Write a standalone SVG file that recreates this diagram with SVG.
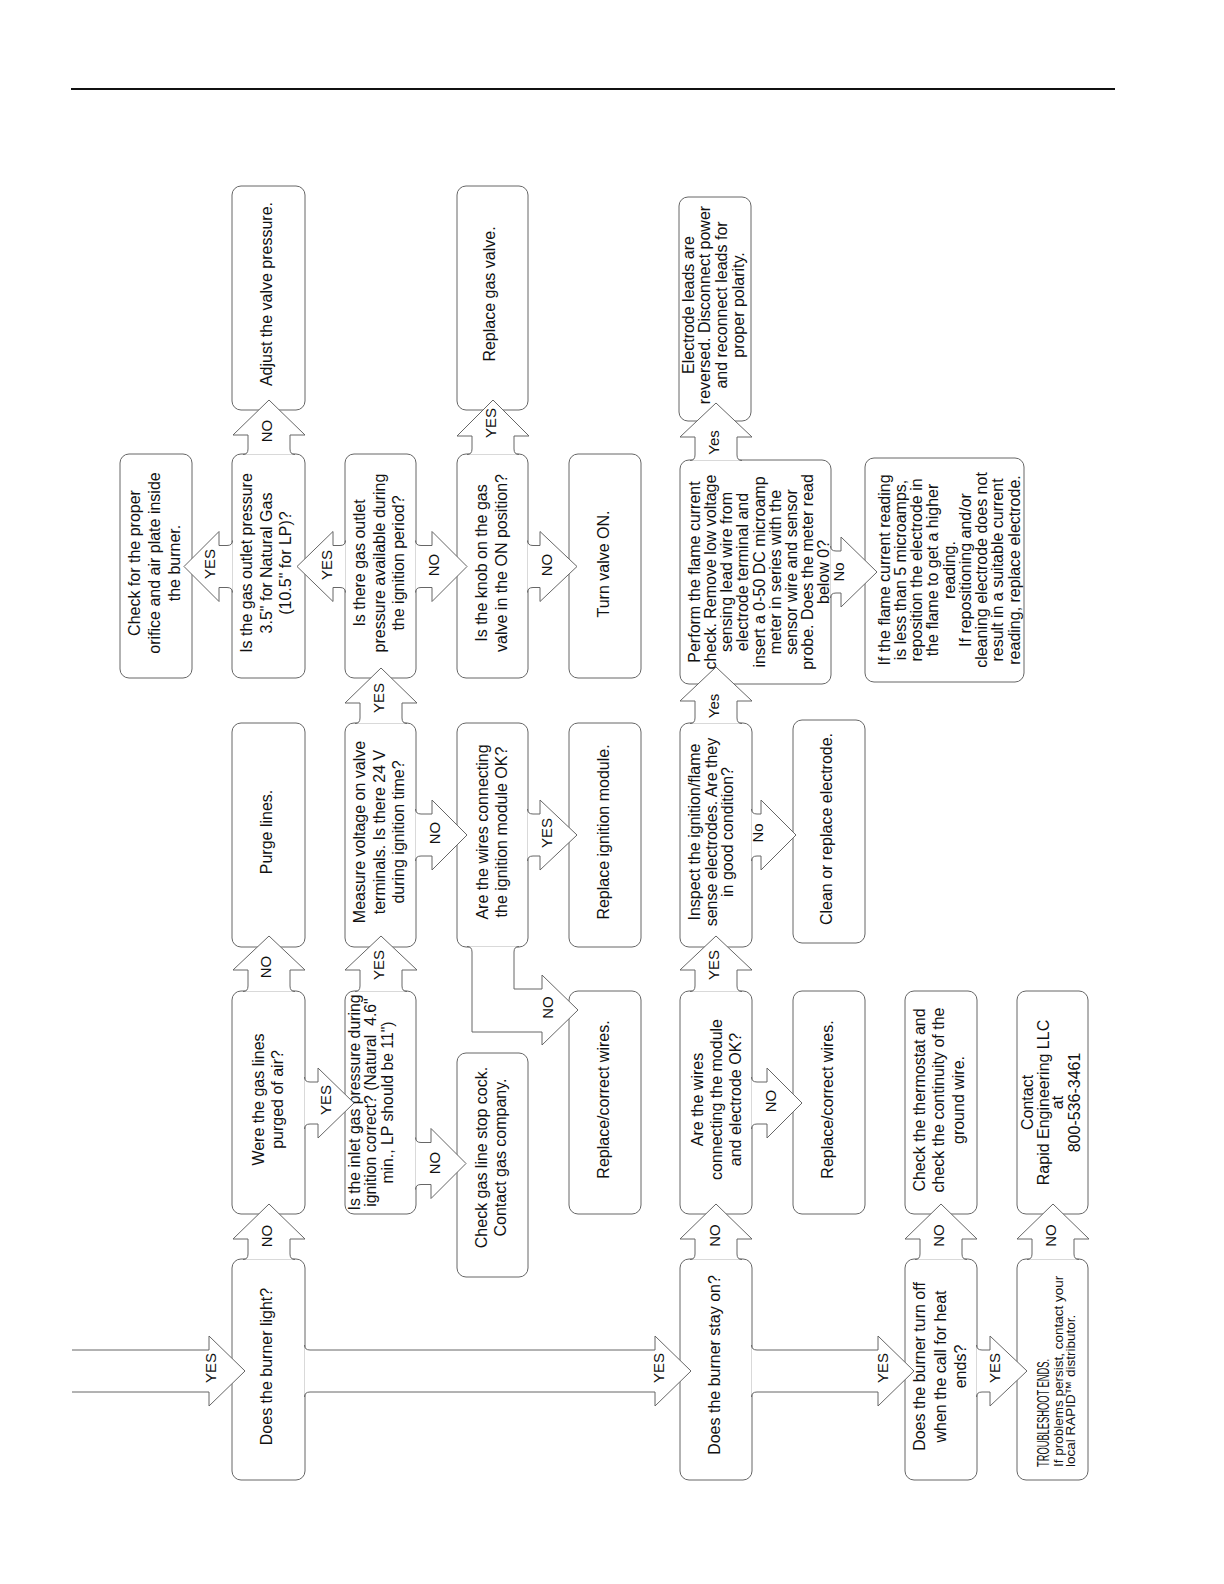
<svg xmlns="http://www.w3.org/2000/svg" width="1224" height="1584" viewBox="0 0 1224 1584">
<style>
.box{fill:#fff;stroke:#666;stroke-width:1}
.arr{fill:#fff;stroke:#666;stroke-width:1;stroke-linejoin:miter}
.t{font-family:"Liberation Sans",Arial,sans-serif;font-size:16px;fill:#111;text-anchor:middle}
.lbl{font-family:"Liberation Sans",Arial,sans-serif;font-size:15px;fill:#111;text-anchor:middle}
.small{font-size:13.5px}
</style>
<rect width="1224" height="1584" fill="#fff"/>
<line x1="71" y1="89" x2="1115" y2="89" stroke="#111" stroke-width="2"/>

<g id="nodes">
<g id="n-a2"><rect class="box" x="120" y="454" width="72" height="224" rx="9"/><text class="t" transform="translate(156,563) rotate(-90)"><tspan x="0" y="-16">Check for the proper</tspan><tspan x="0" y="4">orifice and air plate inside</tspan><tspan x="0" y="24">the burner.</tspan></text></g>
<g id="n-b1"><rect class="box" x="232" y="186" width="73" height="224" rx="9"/><text class="t" transform="translate(268.5,294) rotate(-90)"><tspan x="0" y="3">Adjust the valve pressure.</tspan></text></g>
<g id="n-b2"><rect class="box" x="232" y="454" width="73" height="224" rx="9"/><text class="t" transform="translate(268.5,563) rotate(-90)"><tspan x="0" y="-17">Is the gas outlet pressure</tspan><tspan x="0" y="3">3.5" for Natural Gas</tspan><tspan x="0" y="22.5">(10.5" for LP)?</tspan></text></g>
<g id="n-b3"><rect class="box" x="232" y="723" width="73" height="224" rx="9"/><text class="t" transform="translate(268.5,832) rotate(-90)"><tspan x="0" y="3">Purge lines.</tspan></text></g>
<g id="n-b4"><rect class="box" x="232" y="991" width="73" height="223" rx="9"/><text class="t" transform="translate(268.5,1099.5) rotate(-90)"><tspan x="0" y="-5">Were the gas lines</tspan><tspan x="0" y="14.5">purged of air?</tspan></text></g>
<g id="n-b5"><rect class="box" x="232" y="1259" width="73" height="221" rx="9"/><text class="t" transform="translate(268.5,1366.5) rotate(-90)"><tspan x="0" y="3">Does the burner light?</tspan></text></g>
<g id="n-c2"><rect class="box" x="345" y="454" width="71" height="224" rx="9"/><text class="t" transform="translate(380.5,563) rotate(-90)"><tspan x="0" y="-16">Is there gas outlet</tspan><tspan x="0" y="4">pressure available during</tspan><tspan x="0" y="23">the ignition period?</tspan></text></g>
<g id="n-c3"><rect class="box" x="345" y="723" width="71" height="224" rx="9"/><text class="t" transform="translate(380.5,832) rotate(-90)"><tspan x="0" y="-16">Measure voltage on valve</tspan><tspan x="0" y="4">terminals. Is there 24 V</tspan><tspan x="0" y="23">during ignition time?</tspan></text></g>
<g id="n-c4"><rect class="box" x="345" y="991" width="71" height="223" rx="9"/><text class="t" xml:space="preserve" style="font-size:15.8px" transform="translate(380.5,1102.5) rotate(-90)"><tspan x="0" y="-21">Is the inlet gas pressure during</tspan><tspan x="0" y="-4.5">ignition correct? (Natural  4.6"</tspan><tspan x="0" y="12.5">min., LP should be 11")</tspan></text></g>
<g id="n-d1"><rect class="box" x="457" y="186" width="71" height="224" rx="9"/><text class="t" transform="translate(492.5,294) rotate(-90)"><tspan x="0" y="2">Replace gas valve.</tspan></text></g>
<g id="n-d2"><rect class="box" x="457" y="454" width="71" height="224" rx="9"/><text class="t" transform="translate(492.5,563) rotate(-90)"><tspan x="0" y="-6">Is the knob on the gas</tspan><tspan x="0" y="14.5">valve in the ON position?</tspan></text></g>
<g id="n-d3"><rect class="box" x="457" y="723" width="71" height="224" rx="9"/><text class="t" transform="translate(492.5,832) rotate(-90)"><tspan x="0" y="-5">Are the wires connecting</tspan><tspan x="0" y="14.5">the ignition module OK?</tspan></text></g>
<g id="n-d4"><rect class="box" x="457" y="1053" width="71" height="224" rx="9"/><text class="t" transform="translate(492.5,1157.5) rotate(-90)"><tspan x="0" y="-6">Check gas line stop cock.</tspan><tspan x="0" y="13">Contact gas company.</tspan></text></g>
<g id="n-e2"><rect class="box" x="569" y="454" width="72" height="224" rx="9"/><text class="t" transform="translate(605,564) rotate(-90)"><tspan x="0" y="3.5">Turn valve ON.</tspan></text></g>
<g id="n-e3"><rect class="box" x="569" y="723" width="72" height="224" rx="9"/><text class="t" transform="translate(605,832) rotate(-90)"><tspan x="0" y="3.5">Replace ignition module.</tspan></text></g>
<g id="n-e4"><rect class="box" x="569" y="991" width="72" height="223" rx="9"/><text class="t" transform="translate(605,1099.5) rotate(-90)"><tspan x="0" y="3.5">Replace/correct wires.</tspan></text></g>
<g id="n-f1"><rect class="box" x="679" y="197" width="72" height="224" rx="9"/><text class="t" transform="translate(716,305) rotate(-90)"><tspan x="0" y="-22.2">Electrode leads are</tspan><tspan x="0" y="-5.6">reversed. Disconnect power</tspan><tspan x="0" y="11">and reconnect leads for</tspan><tspan x="0" y="27.6">proper polarity.</tspan></text></g>
<g id="n-f2"><rect class="box" x="680" y="460" width="151" height="224" rx="9"/><text class="t" transform="translate(755.5,572) rotate(-90)"><tspan x="0" y="-56">Perform the flame current</tspan><tspan x="0" y="-39.75">check. Remove low voltage</tspan><tspan x="0" y="-23.5">sensing lead wire from</tspan><tspan x="0" y="-7.25">electrode terminal and</tspan><tspan x="0" y="9">insert a 0-50 DC microamp</tspan><tspan x="0" y="25.25">meter in series with the</tspan><tspan x="0" y="41.5">sensor wire and sensor</tspan><tspan x="0" y="57.75">probe. Does the meter read</tspan><tspan x="0" y="73.5">below 0?</tspan></text></g>
<g id="n-f3"><rect class="box" x="680" y="723" width="72" height="224" rx="9"/><text class="t" transform="translate(716,832) rotate(-90)"><tspan x="0" y="-16.5">Inspect the ignition/flame</tspan><tspan x="0" y="0.5">sense electrodes. Are they</tspan><tspan x="0" y="17">in good condition?</tspan></text></g>
<g id="n-f4"><rect class="box" x="680" y="991" width="72" height="223" rx="9"/><text class="t" transform="translate(716,1099.5) rotate(-90)"><tspan x="0" y="-13">Are the wires</tspan><tspan x="0" y="6">connecting the module</tspan><tspan x="0" y="25">and electrode OK?</tspan></text></g>
<g id="n-f5"><rect class="box" x="680" y="1259" width="72" height="221" rx="9"/><text class="t" transform="translate(716,1365) rotate(-90)"><tspan x="0" y="3.7">Does the burner stay on?</tspan></text></g>
<g id="n-g2"><rect class="box" x="865" y="458" width="159" height="224" rx="9"/><text class="t" transform="translate(944.5,570) rotate(-90)"><tspan x="0" y="-55">If the flame current reading</tspan><tspan x="0" y="-38.75">is less than 5 microamps,</tspan><tspan x="0" y="-22.5">reposition the electrode in</tspan><tspan x="0" y="-6.25">the flame to get a higher</tspan><tspan x="0" y="10">reading.</tspan><tspan x="0" y="26.25">If repositioning and/or</tspan><tspan x="0" y="42.5">cleaning electrode does not</tspan><tspan x="0" y="58.75">result in a suitable current</tspan><tspan x="0" y="75">reading, replace electrode.</tspan></text></g>
<g id="n-g3"><rect class="box" x="793" y="720" width="72" height="223" rx="9"/><text class="t" transform="translate(829,829) rotate(-90)"><tspan x="0" y="2.5">Clean or replace electrode.</tspan></text></g>
<g id="n-g4"><rect class="box" x="793" y="991" width="72" height="223" rx="9"/><text class="t" transform="translate(829,1099.5) rotate(-90)"><tspan x="0" y="3.5">Replace/correct wires.</tspan></text></g>
<g id="n-h4"><rect class="box" x="905" y="991" width="72" height="223" rx="9"/><text class="t" transform="translate(941,1100) rotate(-90)"><tspan x="0" y="-16.5">Check the thermostat and</tspan><tspan x="0" y="3">check the continuity of the</tspan><tspan x="0" y="23">ground wire.</tspan></text></g>
<g id="n-h5"><rect class="box" x="905" y="1259" width="72" height="221" rx="9"/><text class="t" transform="translate(941,1366.5) rotate(-90)"><tspan x="0" y="-16.5">Does the burner turn off</tspan><tspan x="0" y="4.5">when the call for heat</tspan><tspan x="0" y="25">ends?</tspan></text></g>
<g id="n-i4"><rect class="box" x="1017" y="991" width="71" height="223" rx="9"/><text class="t" transform="translate(1052.5,1102.5) rotate(-90)"><tspan x="0" y="-19.5">Contact</tspan><tspan x="0" y="-3.5">Rapid Engineering LLC</tspan><tspan x="0" y="10">at</tspan><tspan x="0" y="27.5">800-536-3461</tspan></text></g>
<g id="n-i5"><rect class="box" x="1017" y="1259" width="71" height="221" rx="9"/><text class="t" style="text-anchor:start" transform="translate(1052.5,1369.5) rotate(-90)"><tspan x="-97.5" y="-4" style="font-size:16.5px" textLength="108" lengthAdjust="spacingAndGlyphs">TROUBLESHOOT ENDS.</tspan><tspan class="small" x="-97.5" y="10.5">If problems persist, contact your</tspan><tspan class="small" x="-97.5" y="22.5">local RAPID™ distributor.</tspan></text></g>
</g>

<g id="connectors">
<path class="arr" d="M 243,454.5 Q 248,454.5 248,449 L 248,435 L 233,435 L 269,400 L 305,435 L 290,435 L 290,449 Q 290,454.5 295,454.5"/>
<path class="arr" d="M 243,991.5 Q 248,991.5 248,986 L 248,970 L 233,970 L 269,936 L 305,970 L 290,970 L 290,986 Q 290,991.5 295,991.5"/>
<path class="arr" d="M 243,1259.5 Q 248,1259.5 248,1254 L 248,1239 L 233,1239 L 269,1204 L 305,1239 L 290,1239 L 290,1254 Q 290,1259.5 295,1259.5"/>
<path class="arr" d="M 355,723.5 Q 360,723.5 360,718 L 360,703 L 345,703 L 381,668 L 417,703 L 402,703 L 402,718 Q 402,723.5 407,723.5"/>
<path class="arr" d="M 355,991.5 Q 360,991.5 360,986 L 360,970 L 345,970 L 381,936 L 417,970 L 402,970 L 402,986 Q 402,991.5 407,991.5"/>
<path class="arr" d="M 467,454.5 Q 472,454.5 472,449 L 472,436 L 457,436 L 493,400 L 529,436 L 514,436 L 514,449 Q 514,454.5 519,454.5"/>
<path class="arr" d="M 690,460.5 Q 695,460.5 695,455 L 695,437 L 680,437 L 716,403 L 752,437 L 737,437 L 737,455 Q 737,460.5 742,460.5"/>
<path class="arr" d="M 690,723.5 Q 695,723.5 695,718 L 695,701 L 680,701 L 716,667 L 752,701 L 737,701 L 737,718 Q 737,723.5 742,723.5"/>
<path class="arr" d="M 690,991.5 Q 695,991.5 695,986 L 695,970 L 680,970 L 716,936 L 752,970 L 737,970 L 737,986 Q 737,991.5 742,991.5"/>
<path class="arr" d="M 690,1259.5 Q 695,1259.5 695,1254 L 695,1239 L 680,1239 L 716,1204 L 752,1239 L 737,1239 L 737,1254 Q 737,1259.5 742,1259.5"/>
<path class="arr" d="M 915,1259.5 Q 920,1259.5 920,1254 L 920,1239 L 905,1239 L 941,1204 L 977,1239 L 962,1239 L 962,1254 Q 962,1259.5 967,1259.5"/>
<path class="arr" d="M 1027,1259.5 Q 1032,1259.5 1032,1254 L 1032,1239 L 1017,1239 L 1053,1204 L 1089,1239 L 1074,1239 L 1074,1254 Q 1074,1259.5 1079,1259.5"/>
<path class="arr" d="M 415.5,540.5 Q 415.5,545.5 421,545.5 L 432,545.5 L 432,531.5 L 467,566.5 L 432,601.5 L 432,587.5 L 421,587.5 Q 415.5,587.5 415.5,592.5"/>
<path class="arr" d="M 527.5,540.5 Q 527.5,545.5 533,545.5 L 540,545.5 L 540,531.5 L 577,566.5 L 540,601.5 L 540,587.5 L 533,587.5 Q 527.5,587.5 527.5,592.5"/>
<path class="arr" d="M 415.5,809 Q 415.5,814 421,814 L 432,814 L 432,800 L 467,835 L 432,870 L 432,856 L 421,856 Q 415.5,856 415.5,861"/>
<path class="arr" d="M 527.5,809 Q 527.5,814 533,814 L 540,814 L 540,800 L 577,835 L 540,870 L 540,856 L 533,856 Q 527.5,856 527.5,861"/>
<path class="arr" d="M 304.5,1077 Q 304.5,1082 310,1082 L 318,1082 L 318,1068 L 354,1103 L 318,1138 L 318,1124 L 310,1124 Q 304.5,1124 304.5,1129"/>
<path class="arr" d="M 415.5,1137.5 Q 415.5,1142.5 421,1142.5 L 431,1142.5 L 431,1128.5 L 466,1163.5 L 431,1198.5 L 431,1184.5 L 421,1184.5 Q 415.5,1184.5 415.5,1189.5"/>
<path class="arr" d="M 751.5,809 Q 751.5,814 757,814 L 761,814 L 761,800 L 796,835 L 761,870 L 761,856 L 757,856 Q 751.5,856 751.5,861"/>
<path class="arr" d="M 751.5,1077 Q 751.5,1082 757,1082 L 767,1082 L 767,1068 L 802,1103 L 767,1138 L 767,1124 L 757,1124 Q 751.5,1124 751.5,1129"/>
<path class="arr" d="M 830.5,546 Q 830.5,551 836,551 L 841,551 L 841,537 L 877,572 L 841,607 L 841,593 L 836,593 Q 830.5,593 830.5,598"/>
<path class="arr" d="M 232.5,540.5 Q 232.5,545.5 227,545.5 L 219,545.5 L 219,531.5 L 184,566.5 L 219,601.5 L 219,587.5 L 227,587.5 Q 232.5,587.5 232.5,592.5"/>
<path class="arr" d="M 345.5,540.5 Q 345.5,545.5 340,545.5 L 333,545.5 L 333,531.5 L 297,566.5 L 333,601.5 L 333,587.5 L 340,587.5 Q 345.5,587.5 345.5,592.5"/>
<path class="arr" d="M 72,1350 L 209,1350 L 209,1336 L 245,1371 L 209,1406 L 209,1392 L 72,1392"/>
<path class="arr" d="M 304.5,1345 Q 304.5,1350 310,1350 L 655,1350 L 655,1336 L 691,1371 L 655,1406 L 655,1392 L 310,1392 Q 304.5,1392 304.5,1397"/>
<path class="arr" d="M 751.5,1345 Q 751.5,1350 757,1350 L 878,1350 L 878,1336 L 914,1371 L 878,1406 L 878,1392 L 757,1392 Q 751.5,1392 751.5,1397"/>
<path class="arr" d="M 976.5,1345 Q 976.5,1350 982,1350 L 990,1350 L 990,1336 L 1027,1371 L 990,1406 L 990,1392 L 982,1392 Q 976.5,1392 976.5,1397"/>
<path class="arr" d="M 467,946.5 Q 472,946.5 472,952 L 472,1032 L 542,1032 L 542,1045 L 578,1010 L 542,975 L 542,989 L 514,989 L 514,952 Q 514,946.5 519,946.5"/>

<text class="lbl" transform="translate(267,431) rotate(-90)" y="5.4">NO</text>
<text class="lbl" transform="translate(266,967) rotate(-90)" y="5.4">NO</text>
<text class="lbl" transform="translate(267,1236) rotate(-90)" y="5.4">NO</text>
<text class="lbl" transform="translate(379,698) rotate(-90)" y="5.4">YES</text>
<text class="lbl" transform="translate(379,965) rotate(-90)" y="5.4">YES</text>
<text class="lbl" transform="translate(491,423) rotate(-90)" y="5.4">YES</text>
<text class="lbl" transform="translate(714,442.5) rotate(-90)" y="5.4">Yes</text>
<text class="lbl" transform="translate(714,706) rotate(-90)" y="5.4">Yes</text>
<text class="lbl" transform="translate(714,965) rotate(-90)" y="5.4">YES</text>
<text class="lbl" transform="translate(715,1235.5) rotate(-90)" y="5.4">NO</text>
<text class="lbl" transform="translate(938.5,1235.5) rotate(-90)" y="5.4">NO</text>
<text class="lbl" transform="translate(1051,1235.5) rotate(-90)" y="5.4">NO</text>
<text class="lbl" transform="translate(210,564) rotate(-90)" y="5.4">YES</text>
<text class="lbl" transform="translate(326.5,565) rotate(-90)" y="5.4">YES</text>
<text class="lbl" transform="translate(434,565) rotate(-90)" y="5.4">NO</text>
<text class="lbl" transform="translate(547,565) rotate(-90)" y="5.4">NO</text>
<text class="lbl" transform="translate(435,833) rotate(-90)" y="5.4">NO</text>
<text class="lbl" transform="translate(546.5,833) rotate(-90)" y="5.4">YES</text>
<text class="lbl" transform="translate(326,1100) rotate(-90)" y="5.4">YES</text>
<text class="lbl" transform="translate(548,1007.5) rotate(-90)" y="5.4">NO</text>
<text class="lbl" transform="translate(435,1163) rotate(-90)" y="5.4">NO</text>
<text class="lbl" transform="translate(758,833) rotate(-90)" y="5.4">No</text>
<text class="lbl" transform="translate(771,1101) rotate(-90)" y="5.4">NO</text>
<text class="lbl" transform="translate(839,572) rotate(-90)" y="5.4">No</text>
<text class="lbl" transform="translate(211,1368) rotate(-90)" y="5.4">YES</text>
<text class="lbl" transform="translate(659,1368) rotate(-90)" y="5.4">YES</text>
<text class="lbl" transform="translate(883,1368) rotate(-90)" y="5.4">YES</text>
<text class="lbl" transform="translate(995,1368) rotate(-90)" y="5.4">YES</text>
</g>
</svg>
